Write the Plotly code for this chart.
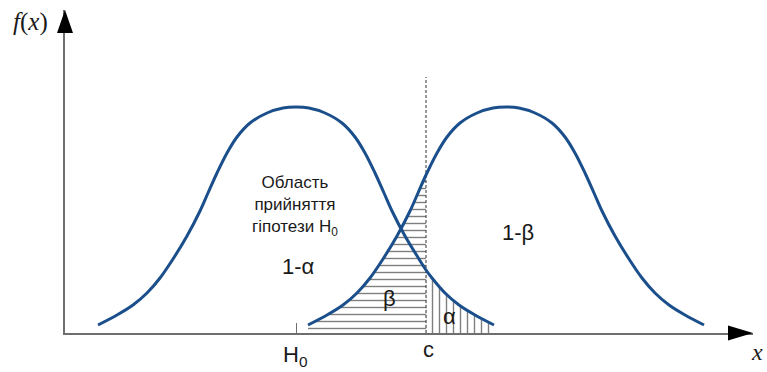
import plotly.graph_objects as go

# ---- data (horizontal unit = 10 px, vertical unit = 10 px) ----
H0 = 23.1          # mean under H0
H1 = 44.1          # mean under H1
C = 36.1           # critical value c
X_MAX = 68.8
Y_MAX = 32.3
DASH_TOP = 25.6

left_x = [3.3, 5.2, 6.8, 8.2, 9.5, 10.8, 12.2, 13.5, 14.3, 15.2, 16.2, 17.2, 18.5, 20.2, 21.8, 23.1,
          24.4, 26.0, 27.7, 29.0, 30.0, 31.0, 31.9, 32.7, 34.0, 35.4, 36.1, 36.7, 38.0, 39.4, 41.0, 42.9]
left_y = [0.8, 1.8, 2.8, 4.0, 5.5, 7.4, 9.7, 12.2, 14.0, 16.0, 18.0, 19.6, 21.0, 22.0, 22.5, 22.6,
          22.5, 22.0, 21.0, 19.6, 18.0, 16.0, 14.0, 12.2, 9.7, 7.4, 6.3, 5.5, 4.0, 2.8, 1.8, 0.8]

right_x = [24.3, 26.2, 27.8, 29.2, 30.5, 31.8, 33.2, 34.5, 35.3, 36.1, 37.2, 38.2, 39.5, 41.2, 42.8, 44.1,
           45.4, 47.0, 48.7, 50.0, 51.0, 52.0, 52.9, 53.7, 55.0, 56.4, 57.7, 59.0, 60.4, 62.0, 63.9]
right_y = [0.8, 1.8, 2.8, 4.0, 5.5, 7.4, 9.7, 12.2, 14.0, 15.8, 18.0, 19.6, 21.0, 22.0, 22.5, 22.6,
           22.5, 22.0, 21.0, 19.6, 18.0, 16.0, 14.0, 12.2, 9.7, 7.4, 5.5, 4.0, 2.8, 1.8, 0.8]

labels = {
    "region": "Область<br>прийняття<br>гіпотези H<sub>0</sub>",
    "one_minus_alpha": "1-α",
    "one_minus_beta": "1-β",
    "beta": "β",
    "alpha": "α",
    "h0": "H<sub>0</sub>",
    "c": "c",
    "x": "<i>x</i>",
    "fx": "<i>f</i>(<i>x</i>)",
}

CURVE = "#1b4f8c"
TXT = "#1a1a1a"
AX = "#6e6e6e"
SANS = "Liberation Sans, Arial, sans-serif"
SERIF = "Liberation Serif, DejaVu Serif, serif"

beta_x = [x for x in right_x if x <= C]
beta_y = [y for x, y in zip(right_x, right_y) if x <= C]
alpha_x = [x for x in left_x if x >= C]
alpha_y = [y for x, y in zip(left_x, left_y) if x >= C]

fig = go.Figure()

# beta region (horizontal hatching)
fig.add_trace(go.Scatter(
    x=beta_x, y=beta_y, mode="lines", line=dict(width=0, shape="spline"),
    fill="tozeroy", fillcolor="rgba(0,0,0,0)",
    fillpattern=dict(shape="-", size=7, solidity=0.2, fgcolor="#000000",
                     bgcolor="rgba(0,0,0,0)"),
    hoverinfo="skip", showlegend=False))

# alpha region (vertical hatching)
fig.add_trace(go.Scatter(
    x=alpha_x, y=alpha_y, mode="lines", line=dict(width=0, shape="spline"),
    fill="tozeroy", fillcolor="rgba(0,0,0,0)",
    fillpattern=dict(shape="|", size=7, solidity=0.2, fgcolor="#000000",
                     bgcolor="rgba(0,0,0,0)"),
    hoverinfo="skip", showlegend=False))

# critical value dashed line
fig.add_trace(go.Scatter(
    x=[C, C], y=[0, DASH_TOP], mode="lines",
    line=dict(color="#333333", width=1, dash="3px,2px"),
    hoverinfo="skip", showlegend=False))

# curves
fig.add_trace(go.Scatter(
    x=left_x, y=left_y, mode="lines",
    line=dict(color=CURVE, width=3, shape="spline"),
    hoverinfo="skip", showlegend=False))
fig.add_trace(go.Scatter(
    x=right_x, y=right_y, mode="lines",
    line=dict(color=CURVE, width=3, shape="spline"),
    hoverinfo="skip", showlegend=False))

annotations = [
    dict(xref="x", yref="y", x=23.0, y=12.7, text=labels["region"],
         font=dict(family=SANS, size=17, color=TXT)),
    dict(xref="x", yref="y", x=23.3, y=6.7, text=labels["one_minus_alpha"],
         font=dict(family=SANS, size=22, color=TXT)),
    dict(xref="x", yref="y", x=45.3, y=10.1, text=labels["one_minus_beta"],
         font=dict(family=SANS, size=22, color=TXT)),
    dict(xref="x", yref="y", x=32.4, y=3.5, text=labels["beta"],
         font=dict(family=SANS, size=22, color=TXT)),
    dict(xref="x", yref="y", x=38.4, y=1.7, text=labels["alpha"],
         font=dict(family=SANS, size=22, color=TXT)),
    dict(xref="x", yref="paper", x=H0 - 0.1, y=0, yshift=-23, text=labels["h0"],
         font=dict(family=SANS, size=22, color=TXT)),
    dict(xref="x", yref="paper", x=C + 0.2, y=0, yshift=-16, text=labels["c"],
         font=dict(family=SANS, size=22, color=TXT)),
    dict(xref="paper", yref="paper", x=1, xshift=4, y=0, yshift=-19, text=labels["x"],
         font=dict(family=SERIF, size=24, color=TXT)),
    dict(xref="paper", yref="paper", x=0, xshift=-35, y=1, yshift=-12, text=labels["fx"],
         font=dict(family=SERIF, size=25, color=TXT)),
]
for a in annotations:
    a.update(showarrow=False, xanchor="center", yanchor="middle")
fig.update_layout(annotations=annotations)

# axis arrowheads
fig.add_shape(type="path", xref="paper", yref="paper", xsizemode="pixel", ysizemode="pixel",
              xanchor=0, yanchor=1, path="M -8,-23 L 8,-23 L 0,0 Z",
              fillcolor="black", line=dict(width=0), layer="above")
fig.add_shape(type="path", xref="paper", yref="paper", xsizemode="pixel", ysizemode="pixel",
              xanchor=1, yanchor=0, path="M -25,-7.5 L -25,7.5 L 0,0 Z",
              fillcolor="black", line=dict(width=0), layer="above")

fig.update_layout(
    width=767, height=372,
    margin=dict(l=65, r=14, t=10, b=39),
    paper_bgcolor="white", plot_bgcolor="white",
    xaxis=dict(range=[0, X_MAX], showgrid=False, zeroline=False,
               showline=True, linecolor=AX, linewidth=1.5,
               tickmode="array", tickvals=[H0], ticks="inside", ticklen=10,
               tickcolor=AX, tickwidth=1, showticklabels=False, fixedrange=True),
    yaxis=dict(range=[0, Y_MAX], showgrid=False, zeroline=False,
               showline=True, linecolor=AX, linewidth=1.5,
               showticklabels=False, ticks="", fixedrange=True),
)

fig.write_html("out.html", config={"displayModeBar": False},
               post_script="document.body.style.margin='0';")
